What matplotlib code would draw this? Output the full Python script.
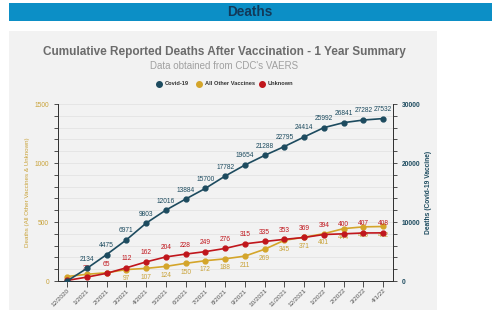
import numpy as np
import matplotlib.pyplot as plt
from matplotlib.patches import Rectangle
from matplotlib.ticker import MultipleLocator

plt.rcParams['font.family'] = ['Liberation Sans', 'DejaVu Sans']

months = ["12/2020", "1/2021", "2/2021", "3/2021", "4/2021", "5/2021", "6/2021",
          "7/2021", "8/2021", "9/2021", "10/2021", "11/2021", "12/2021",
          "1/2022", "2/2022", "3/2022", "4/1/22"]
covid = [0, 2134, 4475, 6971, 9803, 12016, 13884, 15700, 17782, 19654,
         21288, 22795, 24414, 25992, 26841, 27282, 27532]
other = [38, 57, 70, 97, 107, 124, 150, 172, 188, 211,
         269, 345, 371, 401, 444, 459, 462]
unknown = [5, 33, 65, 112, 162, 204, 228, 249, 276, 315,
           335, 353, 369, 394, 400, 407, 408]

NAVY = "#1d4b5f"
GOLD = "#d4a52a"
RED = "#c0161c"
GOLD_TXT = "#c9a33a"
PANEL = "#f2f2f2"


def main():
    fig = plt.figure(figsize=(5, 3.23), dpi=100)

    # banner and panel, behind the axes
    fig.patches.append(Rectangle((0.018, 0.935), 0.966, 0.056, transform=fig.transFigure,
                                 facecolor="#0c8fc6", edgecolor="none", zorder=-2))
    fig.text(0.5, 0.963, "Deaths", ha="center", va="center", fontsize=9.8,
             fontweight="bold", color="#123a5a")
    fig.patches.append(Rectangle((0.018, 0.040), 0.856, 0.864, transform=fig.transFigure,
                                 facecolor=PANEL, edgecolor="none", zorder=-2))

    fig.text(0.448, 0.838, "Cumulative Reported Deaths After Vaccination - 1 Year Summary",
             ha="center", va="center", fontsize=8.5, fontweight="bold", color="#6b6b6b")
    fig.text(0.448, 0.797, "Data obtained from CDC's VAERS", ha="center", va="center",
             fontsize=7, color="#a0a0a0")

    ax = fig.add_axes([0.116, 0.130, 0.670, 0.548])
    ax.set_facecolor("none")
    ax2 = ax.twinx()
    x = np.arange(len(months))

    ax.plot(x, other, color=GOLD, lw=1.2, marker="o", ms=3.5, zorder=3)
    ax.plot(x, unknown, color=RED, lw=1.2, marker="o", ms=3.5, zorder=4)
    ax2.plot(x, covid, color=NAVY, lw=1.2, marker="o", ms=3.5, zorder=3)

    for i in range(1, len(x)):
        ax.annotate(str(unknown[i]), (x[i], unknown[i]), xytext=(0, 4),
                    textcoords="offset points", ha="center", va="bottom",
                    fontsize=4.8, color=RED)
        if i >= 3:
            ax.annotate(str(other[i]), (x[i], other[i]), xytext=(0, -4),
                        textcoords="offset points", ha="center", va="top",
                        fontsize=4.8, color=GOLD_TXT)
        ax2.annotate(str(covid[i]), (x[i], covid[i]), xytext=(0, 4),
                     textcoords="offset points", ha="center", va="bottom",
                     fontsize=4.8, color=NAVY)

    ax.set_xlim(-0.46, len(x) - 0.5)
    ax.set_ylim(0, 1500)
    ax2.set_ylim(0, 30000)
    ax.set_xticks(x)
    ax.set_xticklabels(months, rotation=45, ha="right", rotation_mode="anchor",
                       fontsize=4.6, color="#555555")

    ax.yaxis.set_major_locator(MultipleLocator(500))
    ax.yaxis.set_minor_locator(MultipleLocator(100))
    ax2.yaxis.set_major_locator(MultipleLocator(10000))
    ax2.yaxis.set_minor_locator(MultipleLocator(2000))
    ax.tick_params(axis="y", which="both", labelsize=4.8, labelcolor=GOLD_TXT,
                   color="#333333", length=3, width=0.6)
    ax2.tick_params(axis="y", which="both", labelsize=4.8, labelcolor=NAVY,
                    color="#333333", length=3, width=0.6)
    for t in ax2.get_yticklabels():
        t.set_fontweight("bold")
    ax.tick_params(axis="x", color="#333333", length=4, width=0.6, pad=1)

    ax.grid(True, which="both", axis="y", color="#e0e0e0", lw=0.5)
    ax.set_axisbelow(True)
    for a in (ax, ax2):
        a.spines["top"].set_visible(False)
        for s in ("left", "right", "bottom"):
            a.spines[s].set_color("#333333")
            a.spines[s].set_linewidth(0.7)

    ax.set_ylabel("Deaths (All Other Vaccines & Unknown)", fontsize=4.5, color=GOLD_TXT,
                  labelpad=3)
    ax2.set_ylabel("Deaths (Covid-19 Vaccine)", fontsize=4.8, color=NAVY,
                   fontweight="bold", labelpad=3)

    # legend
    ly = 0.740
    items = [("Covid-19", NAVY, 0.318), ("All Other Vaccines", GOLD, 0.398),
             ("Unknown", RED, 0.524)]
    for name, c, lx in items:
        fig.lines.append(plt.Line2D([lx], [ly], transform=fig.transFigure, marker="o",
                                    ms=4, color=c, ls="none"))
        fig.text(lx + 0.011, ly, name, fontsize=4.1, va="center", ha="left",
                 color="#333333", fontweight="bold")

    fig.savefig("out.png", dpi=100)


if __name__ == "__main__":
    main()
